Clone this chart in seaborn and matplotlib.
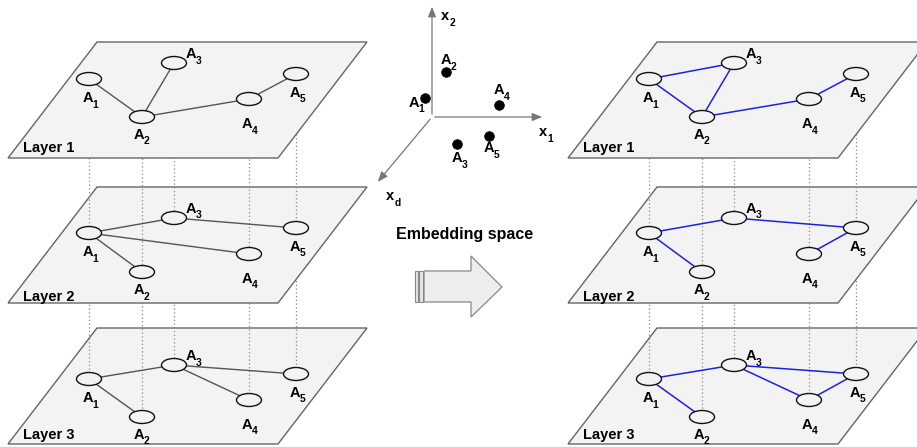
import numpy as np
import matplotlib
matplotlib.use("Agg")
import matplotlib.pyplot as plt
from matplotlib.patches import Ellipse, Polygon, Rectangle
import seaborn as sns

sns.set_theme(style="white")
plt.rcParams["font.family"] = ["Liberation Sans", "DejaVu Sans"]

# Node names, node x positions (shared by every layer) and y per layer
node_names = ["1", "2", "3", "4", "5"]
node_x = [89, 142, 174, 249, 296]
node_y = [
    [79, 117, 63, 99, 74],
    [233, 272, 218, 254, 228],
    [379, 417, 365, 400, 374],
]
label_dx = [-1, -3, 17, -2, -1]
label_dy = [19, 18, -9, 25, 19]

layer_names = ["Layer 1", "Layer 2", "Layer 3"]
plane_top = [42, 187, 328]
layer_label_y = [148, 297, 435]

# graph edges per layer, before and after learning the embedding
edges_before = [
    [(1, 2), (2, 3), (2, 4), (4, 5)],
    [(1, 3), (3, 5), (1, 4), (1, 2)],
    [(1, 3), (3, 5), (3, 4), (1, 2)],
]
edges_after = [
    [(1, 3), (1, 2), (2, 3), (2, 4), (4, 5)],
    [(1, 3), (3, 5), (1, 2), (4, 5)],
    [(1, 3), (3, 5), (3, 4), (4, 5), (1, 2)],
]

# points in the embedding space
emb_x = [425, 446, 457, 499, 489]
emb_y = [98, 72, 144, 105, 136]
emb_label_x = [414, 446, 457, 499, 489]
emb_label_y = [103, 60, 158, 90, 148]

PLANE_FILL = "#f3f3f3"
PLANE_EDGE = "#666666"


def sub_label(ax, x, y, main, sub, z, size=10.5):
    ax.text(x, y, main, fontsize=size, fontweight="bold", ha="center",
            va="center", zorder=z, color="#000000")
    ax.text(x + 7.5, y + 6.5, sub, fontsize=size * 0.7, fontweight="bold",
            ha="center", va="center", zorder=z, color="#000000")


def draw_stack(ax, x0, edges, edge_color, edge_lw):
    for i in range(3):
        base = 3 * (2 - i) + 1
        top = plane_top[i]
        h = 116
        pts = [(x0 + 97, top), (x0 + 367, top), (x0 + 278, top + h), (x0 + 8, top + h)]
        ax.add_patch(Polygon(pts, closed=True, facecolor=PLANE_FILL,
                             edgecolor=PLANE_EDGE, lw=1.0, zorder=base))
        ax.text(x0 + 23, layer_label_y[i], layer_names[i], fontsize=10.5,
                fontweight="bold", ha="left", va="center", zorder=base + 2.5,
                color="#000000")
        # dotted links from the layer above
        if i > 0:
            for k in range(5):
                ax.plot([x0 + node_x[k], x0 + node_x[k]],
                        [node_y[i - 1][k], node_y[i][k]],
                        ls=(0, (1, 2)), color="#888888", lw=0.9, zorder=base + 1)
        for a, b in edges[i]:
            ax.plot([x0 + node_x[a - 1], x0 + node_x[b - 1]],
                    [node_y[i][a - 1], node_y[i][b - 1]],
                    color=edge_color, lw=edge_lw, zorder=base + 2)
        for k in range(5):
            ax.add_patch(Ellipse((x0 + node_x[k], node_y[i][k]), 25, 13,
                                 facecolor=PLANE_FILL, edgecolor="#111111",
                                 lw=1.0, zorder=base + 2.3))
            sub_label(ax, x0 + node_x[k] + label_dx[k], node_y[i][k] + label_dy[k],
                      "A", node_names[k], base + 2.5)


fig = plt.figure(figsize=(9.17, 4.47), dpi=100)
ax = fig.add_axes([0, 0, 1, 1])

draw_stack(ax, 0, edges_before, "#555555", 1.0)
draw_stack(ax, 560, edges_after, "#2020e0", 1.1)

# embedding space axes
ox, oy = 432, 117
arrow_kw = dict(arrowstyle="-|>,head_length=0.5,head_width=0.2", color="#777777", lw=0.9)
ax.annotate("", xy=(545, oy), xytext=(ox, oy), arrowprops=arrow_kw)
ax.annotate("", xy=(ox, 4), xytext=(ox, oy), arrowprops=arrow_kw)
ax.annotate("", xy=(376, 184), xytext=(ox, oy), arrowprops=arrow_kw)
sub_label(ax, 445, 16, "x", "2", 20)
sub_label(ax, 543, 132, "x", "1", 20)
sub_label(ax, 390, 196, "x", "d", 20)

sns.scatterplot(x=emb_x, y=emb_y, s=48, color="black", edgecolor="black",
                ax=ax, zorder=20, legend=False)
for k in range(5):
    sub_label(ax, emb_label_x[k], emb_label_y[k], "A", node_names[k], 20)

ax.set_xlim(0, 917)
ax.set_ylim(447, 0)
ax.axis("off")

# Embedding space caption and block arrow
ax.text(465, 234, "Embedding space", fontsize=11.5, fontweight="bold",
        ha="center", va="center", color="#000000")
ax.add_patch(Rectangle((415, 271), 3, 31, facecolor="#e6e6e6", edgecolor="#888888", lw=0.8))
ax.add_patch(Rectangle((419, 271), 4, 31, facecolor="#e6e6e6", edgecolor="#888888", lw=0.8))
ax.add_patch(Polygon([(424, 271), (471, 271), (471, 256), (502, 287),
                      (471, 317), (471, 302), (424, 302)], closed=True,
                     facecolor="#eeeeee", edgecolor="#888888", lw=0.9))

fig.savefig("out.png", dpi=100)
